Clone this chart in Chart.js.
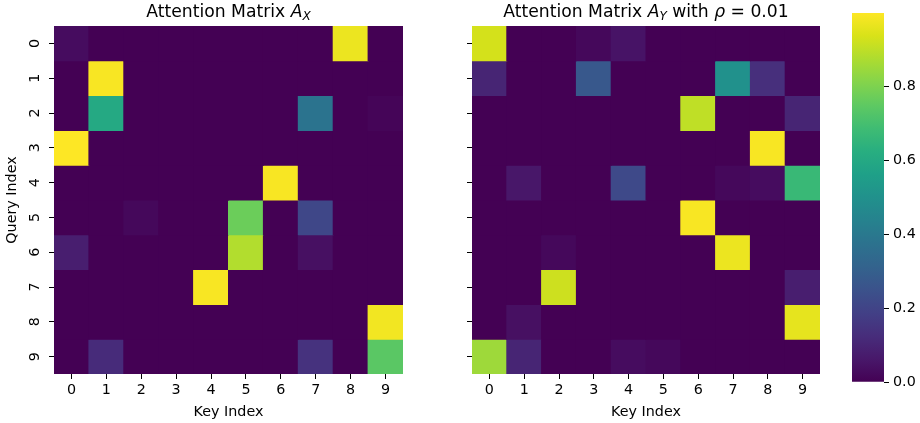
<!DOCTYPE html>
<html>
<head>
<meta charset="utf-8">
<title>Attention matrices</title>
<script src="https://cdn.jsdelivr.net/npm/chart.js@4.4.0/dist/chart.umd.min.js"></script>
<style>
  body { margin: 0; background: #fff; }
  #wrap { position: relative; width: 920px; height: 423px; overflow: hidden; font-family: "DejaVu Sans", sans-serif; }
  canvas { position: absolute; top: 0; }
  .title { position: absolute; top: 3px; font-size: 17.2px; line-height: 1; color: #000; white-space: nowrap; transform: translateX(-50%); }
  .title sub { font-size: 0.7em; font-style: italic; vertical-align: -0.25em; line-height: 0; }
</style>
</head>
<body>
<div id="wrap">
  <canvas id="left" width="420" height="423" style="left:0"></canvas>
  <canvas id="right" width="420" height="423" style="left:420px"></canvas>
  <canvas id="cbar" width="80" height="423" style="left:840px"></canvas>
  <div class="title" style="left:228.5px">Attention Matrix <i>A</i><sub>X</sub></div>
  <div class="title" style="left:646px">Attention Matrix <i>A</i><sub>Y</sub> with <i>&rho;</i> = 0.01</div>
</div>
<script>
// keys along x, queries down y
var keyLabels = ['0', '1', '2', '3', '4', '5', '6', '7', '8', '9'];
var queryIndex = [0, 1, 2, 3, 4, 5, 6, 7, 8, 9];

// A_X, one row per query
var attnX = [
  [0.03, 0, 0, 0, 0, 0, 0, 0, 0.97, 0],
  [0, 0.99, 0, 0, 0, 0, 0, 0, 0, 0],
  [0, 0.60, 0, 0, 0, 0, 0, 0.38, 0, 0.01],
  [0.998, 0, 0, 0, 0, 0, 0, 0, 0, 0],
  [0, 0, 0, 0, 0, 0, 0.99, 0, 0, 0],
  [0, 0, 0.02, 0, 0, 0.77, 0, 0.21, 0, 0],
  [0.08, 0, 0, 0, 0, 0.88, 0, 0.04, 0, 0],
  [0, 0, 0, 0, 0.99, 0, 0, 0, 0, 0],
  [0, 0, 0, 0, 0, 0, 0, 0, 0, 0.98],
  [0, 0.12, 0, 0, 0, 0, 0, 0.14, 0, 0.74]
];

// A_Y with rho = 0.01
var attnY = [
  [0.93, 0, 0, 0.02, 0.05, 0, 0, 0, 0, 0],
  [0.10, 0, 0, 0.27, 0, 0, 0, 0.50, 0.13, 0],
  [0, 0, 0, 0, 0, 0, 0.90, 0, 0, 0.10],
  [0, 0, 0, 0, 0, 0, 0, 0, 0.99, 0],
  [0, 0.06, 0, 0, 0.22, 0, 0, 0.02, 0.03, 0.67],
  [0, 0, 0, 0, 0, 0, 0.99, 0, 0, 0],
  [0, 0, 0.02, 0, 0, 0, 0, 0.97, 0, 0],
  [0, 0, 0.92, 0, 0, 0, 0, 0, 0, 0.08],
  [0, 0.04, 0, 0, 0, 0, 0, 0, 0, 0.96],
  [0.85, 0.10, 0, 0, 0.03, 0.02, 0, 0, 0, 0]
];

var cbarTicks = [0, 0.2, 0.4, 0.6, 0.8];

// viridis, 17 evenly spaced stops
var viridis = ['#440154', '#48186a', '#472d7b', '#424086', '#3b528b', '#33638d', '#2c728e', '#26828e',
  '#21918c', '#1fa088', '#28ae80', '#3fbc73', '#5ec962', '#84d44b', '#addc30', '#d8e219', '#fde725'];

var allVals = [].concat.apply([], attnX.concat(attnY));
var vmin = Math.min.apply(null, allVals);
var vmax = Math.max.apply(null, allVals);

function hexToRgb(h) {
  return [parseInt(h.substr(1, 2), 16), parseInt(h.substr(3, 2), 16), parseInt(h.substr(5, 2), 16)];
}

function colorFor(v) {
  var t = (v - vmin) / (vmax - vmin);
  t = Math.max(0, Math.min(1, t)) * (viridis.length - 1);
  var i = Math.min(Math.floor(t), viridis.length - 2);
  var f = t - i;
  var a = hexToRgb(viridis[i]), b = hexToRgb(viridis[i + 1]);
  return 'rgb(' + a.map(function (c, k) { return Math.round(c + (b[k] - c) * f); }).join(',') + ')';
}

var font = { family: '"DejaVu Sans", sans-serif', size: 14.3 };
Chart.defaults.color = '#000';

function tickGrid() {
  return { drawOnChartArea: false, offset: false, tickLength: 5, tickColor: '#000', tickWidth: 1 };
}

function heatmap(id, matrix, showY, yWidth, rightPad) {
  var datasets = matrix.map(function (row, r) {
    var q = queryIndex[r];
    return {
      data: row.map(function () { return [q - 0.5, q + 0.5]; }),
      backgroundColor: row.map(colorFor),
      borderWidth: 0,
      inflateAmount: 0.5, // hide hairline seams between cells
      barPercentage: 1,
      categoryPercentage: 1,
      grouped: false
    };
  });

  return new Chart(document.getElementById(id), {
    type: 'bar',
    data: { labels: keyLabels, datasets: datasets },
    options: {
      responsive: false,
      animation: false,
      layout: { padding: { top: 26, right: rightPad, left: 0, bottom: 0 } },
      plugins: { legend: { display: false }, tooltip: { enabled: false } },
      scales: {
        x: {
          type: 'category',
          offset: true,
          grid: tickGrid(),
          border: { display: false },
          ticks: { font: font, padding: 3, maxRotation: 0, autoSkip: false },
          title: { display: true, text: 'Key Index', font: font, padding: { top: 0, bottom: 2 } },
          afterFit: function (s) { s.height = 49; }
        },
        y: {
          type: 'linear',
          reverse: true,
          min: queryIndex[0] - 0.5,
          max: queryIndex[queryIndex.length - 1] + 0.5,
          afterBuildTicks: function (s) { s.ticks = queryIndex.map(function (v) { return { value: v }; }); },
          grid: tickGrid(),
          border: { display: false },
          ticks: { display: showY, font: font, minRotation: 90, maxRotation: 90, crossAlign: 'center', padding: 9 },
          title: { display: showY, text: 'Query Index', font: font, padding: { top: 4, bottom: 0 } },
          afterFit: function (s) { s.width = yWidth; }
        }
      }
    }
  });
}

heatmap('left', attnX, true, 54, 17);
heatmap('right', attnY, false, 52, 20);

// colour bar
new Chart(document.getElementById('cbar'), {
  type: 'bar',
  data: {
    labels: [''],
    datasets: [{
      data: [[vmin, vmax]],
      backgroundColor: function (ctx) {
        var area = ctx.chart.chartArea;
        if (!area) return viridis[0];
        var g = ctx.chart.ctx.createLinearGradient(0, area.bottom, 0, area.top);
        viridis.forEach(function (c, i) { g.addColorStop(i / (viridis.length - 1), c); });
        return g;
      },
      borderWidth: 0,
      barPercentage: 1,
      categoryPercentage: 1
    }]
  },
  options: {
    responsive: false,
    animation: false,
    layout: { padding: { left: 12, top: 13, bottom: 41, right: 0 } },
    plugins: { legend: { display: false }, tooltip: { enabled: false } },
    scales: {
      x: { display: false },
      y: {
        position: 'right',
        min: vmin,
        max: vmax,
        afterBuildTicks: function (s) { s.ticks = cbarTicks.map(function (v) { return { value: v }; }); },
        grid: tickGrid(),
        border: { display: false },
        ticks: { font: font, padding: 4, callback: function (v) { return v.toFixed(1); } },
        afterFit: function (s) { s.width = 36; }
      }
    }
  }
});
</script>
</body>
</html>
